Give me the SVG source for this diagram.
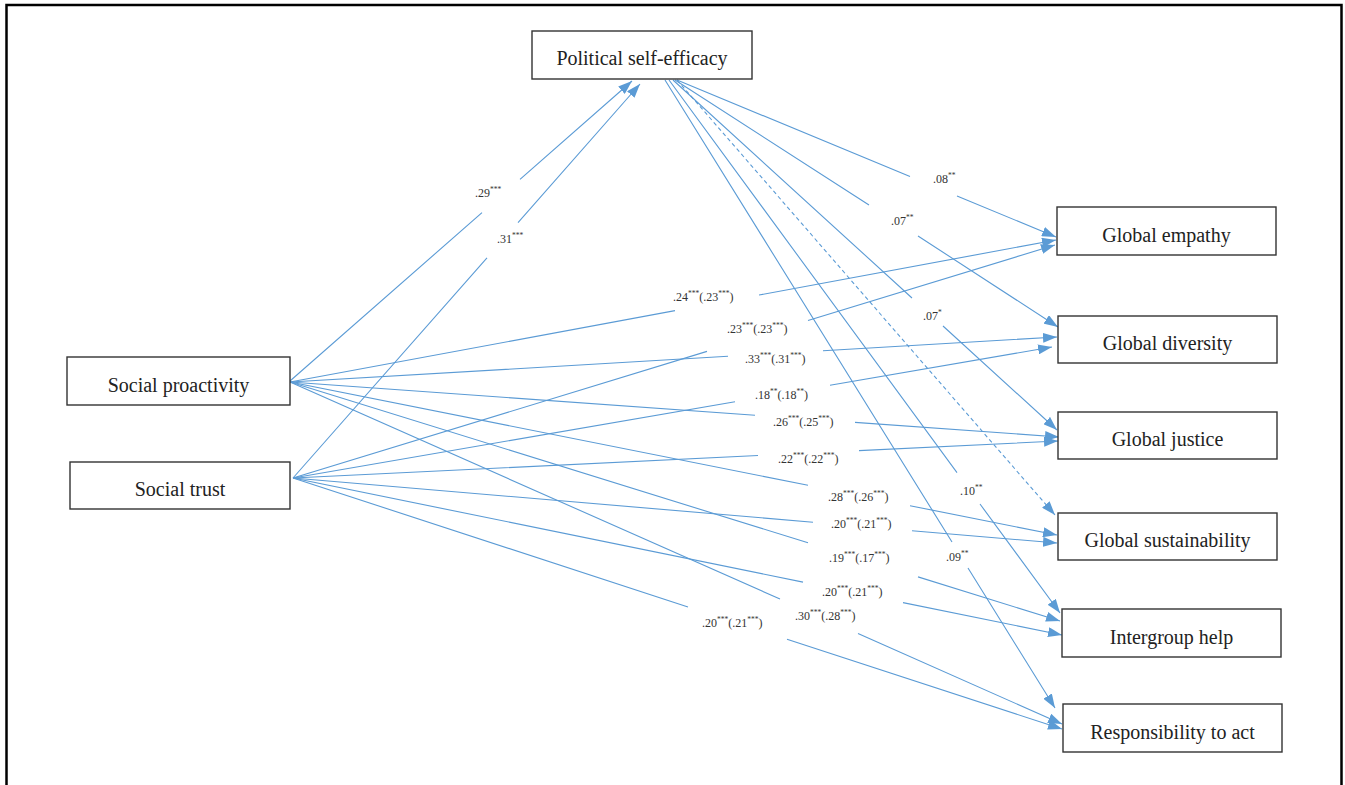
<svg xmlns="http://www.w3.org/2000/svg" width="1345" height="785" viewBox="0 0 1345 785">
<style>
.box{fill:#fff;stroke:#333;stroke-width:1.4}
.nt{font-family:"Liberation Serif","Times New Roman",serif;font-size:20px;fill:#222;text-anchor:middle}
.lb{font-family:"Liberation Serif","Times New Roman",serif;font-size:12px;fill:#333}
.sp{font-size:7.5px}
.c{fill:none;stroke:#5B9BD5;stroke-width:1.1;marker-end:url(#ah)}
.d{stroke-dasharray:4,3}
</style>
<defs>
<marker id="ah" markerUnits="userSpaceOnUse" viewBox="0 0 14 10" refX="14" refY="5" markerWidth="14" markerHeight="10" orient="auto">
<path d="M0,0 L14,5 L0,10 z" fill="#5B9BD5"/>
</marker>
</defs>
<rect width="1345" height="785" fill="#fff"/>
<path d="M6.5,785 V5 H1341.5 V785" fill="none" stroke="#000" stroke-width="2.5"/>
<g id="connectors">
<path class="c" d="M290,381 L482,212.6 M520,179.3 L632,81"/>
<path class="c" d="M293,478 L487,257.8 M518,222.6 L640,84"/>
<path class="c" d="M677,80 L910,176.5 M957,196 L1056,237"/>
<path class="c" d="M675,80 L869,205 M918,236 L1058,327"/>
<path class="c" d="M673,80 L912,298 M943,326 L1057,430"/>
<path class="c d" d="M677,80 L1055,515"/>
<path class="c" d="M669,80 L957,472.6 M980,504 L1060,613"/>
<path class="c" d="M665,80 L952,542 M968,568 L1055,708"/>
<path class="c" d="M290,382 L675,310.6 M759,295 L1056,240"/>
<path class="c" d="M290,382 L728,356.3 M823,350.7 L1057,337"/>
<path class="c" d="M290,382 L755,415.3 M855,422.4 L1059,437"/>
<path class="c" d="M290,382 L808,485.3 M910,505.7 L1057,535"/>
<path class="c" d="M290,382 L808,542.8 M918,576.9 L1060,621"/>
<path class="c" d="M290,382 L780,599 M858,633.6 L1062,724"/>
<path class="c" d="M293,478 L707,351.4 M808,320.5 L1055,245"/>
<path class="c" d="M293,478 L735,401.7 M830,385.3 L1052,347"/>
<path class="c" d="M293,478 L758,455.5 M859,450.6 L1058,441"/>
<path class="c" d="M293,478 L813,522.2 M912,530.7 L1057,543"/>
<path class="c" d="M293,478 L803,582.1 M903,602.6 L1062,635"/>
<path class="c" d="M293,478 L688,606.9 M787,639.2 L1062,729"/>
</g>
<g id="labels">
<text class="lb" x="475" y="197">.29<tspan class="sp" dy="-5">***</tspan></text>
<text class="lb" x="497" y="243">.31<tspan class="sp" dy="-5">***</tspan></text>
<text class="lb" x="933" y="183">.08<tspan class="sp" dy="-5">**</tspan></text>
<text class="lb" x="891" y="225">.07<tspan class="sp" dy="-5">**</tspan></text>
<text class="lb" x="923" y="320">.07<tspan class="sp" dy="-5">*</tspan></text>
<text class="lb" x="960" y="495">.10<tspan class="sp" dy="-5">**</tspan></text>
<text class="lb" x="946" y="561">.09<tspan class="sp" dy="-5">**</tspan></text>
<text class="lb" x="673" y="301">.24<tspan class="sp" dy="-5">***</tspan><tspan dy="5">(.23</tspan><tspan class="sp" dy="-5">***</tspan><tspan dy="5">)</tspan></text>
<text class="lb" x="727" y="333">.23<tspan class="sp" dy="-5">***</tspan><tspan dy="5">(.23</tspan><tspan class="sp" dy="-5">***</tspan><tspan dy="5">)</tspan></text>
<text class="lb" x="745" y="363">.33<tspan class="sp" dy="-5">***</tspan><tspan dy="5">(.31</tspan><tspan class="sp" dy="-5">***</tspan><tspan dy="5">)</tspan></text>
<text class="lb" x="755" y="399">.18<tspan class="sp" dy="-5">**</tspan><tspan dy="5">(.18</tspan><tspan class="sp" dy="-5">**</tspan><tspan dy="5">)</tspan></text>
<text class="lb" x="773" y="426">.26<tspan class="sp" dy="-5">***</tspan><tspan dy="5">(.25</tspan><tspan class="sp" dy="-5">***</tspan><tspan dy="5">)</tspan></text>
<text class="lb" x="778" y="463">.22<tspan class="sp" dy="-5">***</tspan><tspan dy="5">(.22</tspan><tspan class="sp" dy="-5">***</tspan><tspan dy="5">)</tspan></text>
<text class="lb" x="828" y="501">.28<tspan class="sp" dy="-5">***</tspan><tspan dy="5">(.26</tspan><tspan class="sp" dy="-5">***</tspan><tspan dy="5">)</tspan></text>
<text class="lb" x="831" y="528">.20<tspan class="sp" dy="-5">***</tspan><tspan dy="5">(.21</tspan><tspan class="sp" dy="-5">***</tspan><tspan dy="5">)</tspan></text>
<text class="lb" x="829" y="562">.19<tspan class="sp" dy="-5">***</tspan><tspan dy="5">(.17</tspan><tspan class="sp" dy="-5">***</tspan><tspan dy="5">)</tspan></text>
<text class="lb" x="822" y="596">.20<tspan class="sp" dy="-5">***</tspan><tspan dy="5">(.21</tspan><tspan class="sp" dy="-5">***</tspan><tspan dy="5">)</tspan></text>
<text class="lb" x="795" y="620">.30<tspan class="sp" dy="-5">***</tspan><tspan dy="5">(.28</tspan><tspan class="sp" dy="-5">***</tspan><tspan dy="5">)</tspan></text>
<text class="lb" x="702" y="627">.20<tspan class="sp" dy="-5">***</tspan><tspan dy="5">(.21</tspan><tspan class="sp" dy="-5">***</tspan><tspan dy="5">)</tspan></text>
</g>
<g id="pse"><rect class="box" x="532" y="31" width="220" height="48"/><text class="nt" x="642" y="65">Political self-efficacy</text></g>
<g id="sp"><rect class="box" x="67" y="357" width="223" height="48"/><text class="nt" x="178.5" y="391.5">Social proactivity</text></g>
<g id="st"><rect class="box" x="70" y="462" width="220" height="47"/><text class="nt" x="180" y="495.5">Social trust</text></g>
<g id="ge"><rect class="box" x="1057" y="207" width="219" height="48"/><text class="nt" x="1166.5" y="241.5">Global empathy</text></g>
<g id="gd"><rect class="box" x="1058" y="316" width="219" height="47"/><text class="nt" x="1167.5" y="350">Global diversity</text></g>
<g id="gj"><rect class="box" x="1058" y="412" width="219" height="47"/><text class="nt" x="1167.5" y="446">Global justice</text></g>
<g id="gs"><rect class="box" x="1058" y="513" width="219" height="47"/><text class="nt" x="1167.5" y="547">Global sustainability</text></g>
<g id="ih"><rect class="box" x="1062" y="609" width="219" height="48"/><text class="nt" x="1171.5" y="644">Intergroup help</text></g>
<g id="ra"><rect class="box" x="1063" y="704" width="219" height="48"/><text class="nt" x="1172.5" y="739">Responsibility to act</text></g>
</svg>
